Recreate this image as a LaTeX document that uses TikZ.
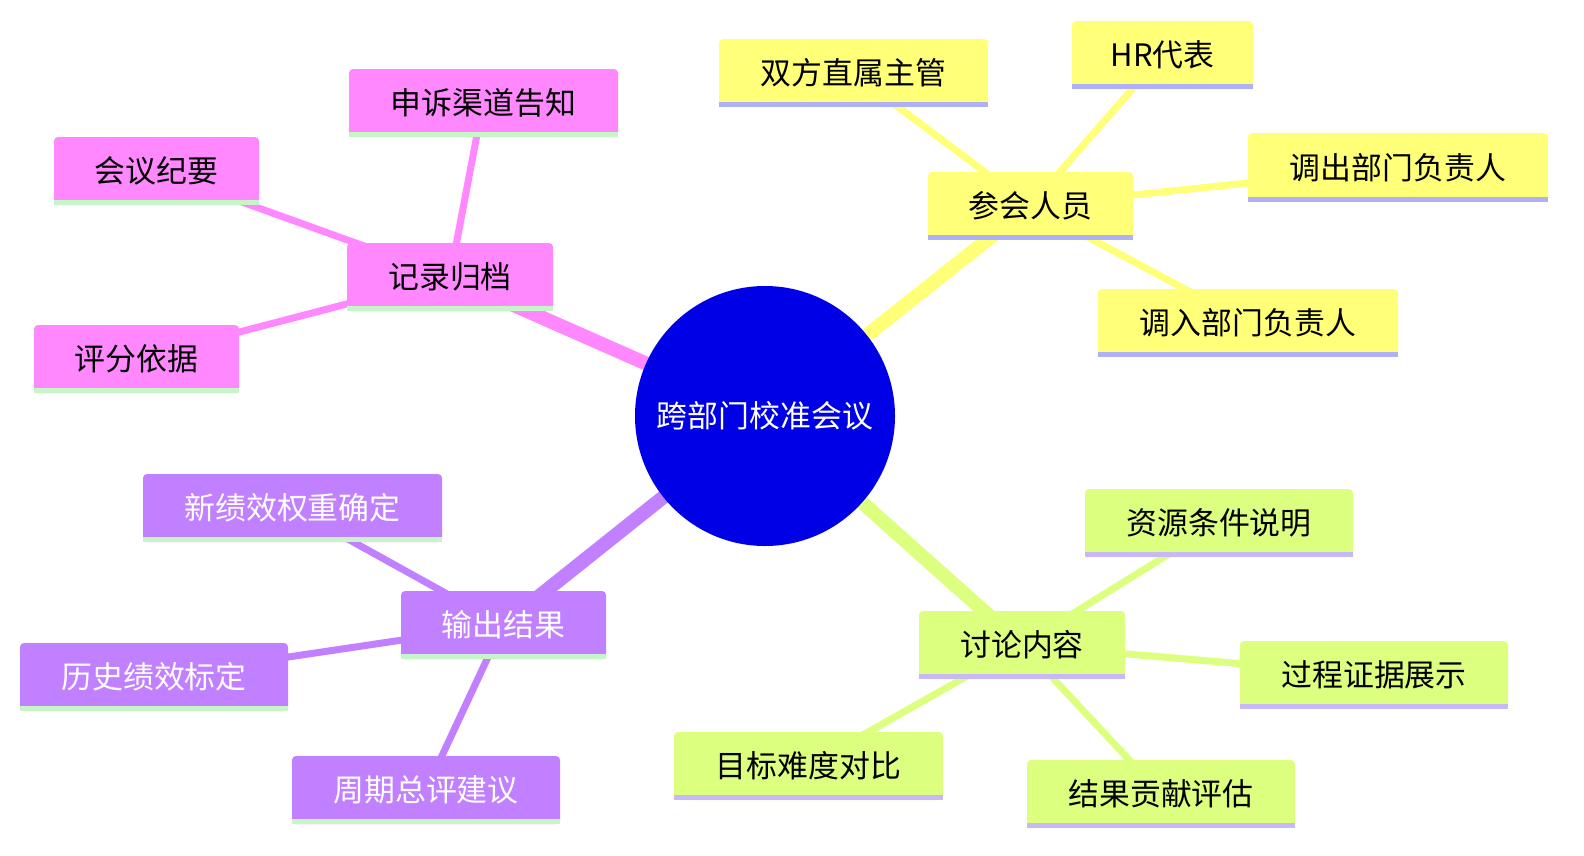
\documentclass[tikz,border=0pt]{standalone}
\usepackage{fontspec}
\newfontfamily\cjk{Noto Sans CJK SC}
\definecolor{cY}{HTML}{FFFF78}
\definecolor{cYl}{HTML}{B0B0F8}
\definecolor{cP}{HTML}{FF88FF}
\definecolor{cV}{HTML}{C080FF}
\definecolor{cG}{HTML}{DDFF80}
\definecolor{cGl}{HTML}{C8B8F8}
\definecolor{cPl}{HTML}{C8F5C8}
\definecolor{cC}{HTML}{0000E6}
\tikzset{
 box/.style={fill=#1,rounded corners=4bp,inner sep=0pt,font=\cjk\fontsize{31}{36}\selectfont},
 big/.style={line width=14bp,draw=#1},
 small/.style={line width=7bp,draw=#1},
}
\newcommand{\mkbox}[9]{%
 \node[box=#6,text=#9,minimum width={(#4-#2)*1bp},minimum height={(#5-#3)*1bp}] (#1) at ({(#2+#4)/2},{(#3+#5)/2}) {#8};
 \draw[line width=5bp,draw=#7] ([yshift=2.5bp]#1.south west) -- ([yshift=2.5bp]#1.south east);}
\begin{document}
\begin{tikzpicture}[x=1bp,y=-1bp]
\useasboundingbox (0,0) rectangle (1584,855);
\coordinate (c) at (765,416);
\coordinate (a) at (1030,206);
\coordinate (r) at (450,277);
\coordinate (o) at (503,625);
\coordinate (d) at (1022,645);
\draw[big=cY] (c) -- (a);
\draw[big=cP] (c) -- (r);
\draw[big=cV] (c) -- (o);
\draw[big=cG] (c) -- (d);
\draw[small=cY] (a) -- (853,73); \draw[small=cY] (a) -- (1162,55);
\draw[small=cY] (a) -- (1398,167); \draw[small=cY] (a) -- (1248,323);
\draw[small=cP] (r) -- (483,103); \draw[small=cP] (r) -- (156,171); \draw[small=cP] (r) -- (136,359);
\draw[small=cV] (o) -- (292,508); \draw[small=cV] (o) -- (154,677); \draw[small=cV] (o) -- (426,790);
\draw[small=cG] (d) -- (1219,523); \draw[small=cG] (d) -- (1374,675);
\draw[small=cG] (d) -- (808,766); \draw[small=cG] (d) -- (1161,794);
\node[circle,fill=cC,minimum size=260bp,inner sep=0pt,text=white,font=\cjk\fontsize{31}{36}\selectfont] (cn) at (c) {跨部门校准会议};
\mkbox{an}{928}{172}{1133}{240}{cY}{cYl}{参会人员}{black}
\mkbox{a1}{719}{39}{988}{107}{cY}{cYl}{双方直属主管}{black}
\mkbox{a2}{1072}{21}{1253}{89}{cY}{cYl}{HR代表}{black}
\mkbox{a3}{1248}{133}{1548}{202}{cY}{cYl}{调出部门负责人}{black}
\mkbox{a4}{1098}{289}{1398}{357}{cY}{cYl}{调入部门负责人}{black}
\mkbox{rn}{347}{243}{553}{311}{cP}{cPl}{记录归档}{black}
\mkbox{r1}{349}{69}{618}{137}{cP}{cPl}{申诉渠道告知}{black}
\mkbox{r2}{54}{137}{259}{205}{cP}{cPl}{会议纪要}{black}
\mkbox{r3}{34}{325}{239}{393}{cP}{cPl}{评分依据}{black}
\mkbox{on}{401}{591}{606}{659}{cV}{cPl}{输出结果}{white}
\mkbox{o1}{143}{474}{442}{542}{cV}{cPl}{新绩效权重确定}{white}
\mkbox{o2}{20}{643}{288}{711}{cV}{cPl}{历史绩效标定}{white}
\mkbox{o3}{292}{756}{560}{824}{cV}{cPl}{周期总评建议}{white}
\mkbox{dn}{919}{611}{1125}{679}{cG}{cGl}{讨论内容}{black}
\mkbox{d1}{1085}{489}{1353}{557}{cG}{cGl}{资源条件说明}{black}
\mkbox{d2}{1240}{641}{1508}{709}{cG}{cGl}{过程证据展示}{black}
\mkbox{d3}{674}{732}{943}{800}{cG}{cGl}{目标难度对比}{black}
\mkbox{d4}{1027}{760}{1295}{828}{cG}{cGl}{结果贡献评估}{black}
\end{tikzpicture}
\end{document}
